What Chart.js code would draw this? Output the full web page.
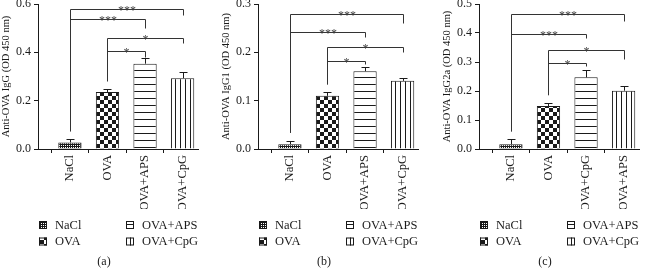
<!DOCTYPE html>
<html>
<head>
<meta charset="utf-8">
<script src="https://cdn.jsdelivr.net/npm/chart.js@4.4.0/dist/chart.umd.min.js"></script>
<style>
  body { margin: 0; background: #fff; width: 654px; height: 269px; overflow: hidden; position: relative; }
  .panel { position: absolute; top: 0; width: 213px; height: 269px; }
</style>
</head>
<body>
<div class="panel" style="left:0px"><canvas id="chartA" width="213" height="269"></canvas></div>
<div class="panel" style="left:220px"><canvas id="chartB" width="213" height="269"></canvas></div>
<div class="panel" style="left:441px"><canvas id="chartC" width="213" height="269"></canvas></div>
<script>
// legend entries (same in every panel)
const legendNames = ["NaCl", "OVA", "OVA+APS", "OVA+CpG"];

// (a) IgG
const labelsA = ["NaCl", "OVA", "OVA+APS", "OVA+CpG"];
const meanA = [0.027, 0.236, 0.353, 0.293];
const errA = [0.013, 0.011, 0.025, 0.024];
const ticksA = [0.0, 0.2, 0.4, 0.6];
const compA = [[0, 3, "***"], [0, 2, "***"], [1, 3, "*"], [1, 2, "*"]];

// (b) IgG1
const labelsB = ["NaCl", "OVA", "OVA+APS", "OVA+CpG"];
const meanB = [0.010, 0.110, 0.161, 0.141];
const errB = [0.007, 0.007, 0.009, 0.005];
const ticksB = [0.0, 0.1, 0.2, 0.3];
const compB = [[0, 3, "***"], [0, 2, "***"], [1, 3, "*"], [1, 2, "*"]];

// (c) IgG2a
const labelsC = ["NaCl", "OVA", "OVA+CpG", "OVA+APS"];
const meanC = [0.016, 0.148, 0.247, 0.201];
const errC = [0.017, 0.010, 0.025, 0.016];
const ticksC = [0.0, 0.1, 0.2, 0.3, 0.4, 0.5];
const compC = [[0, 3, "***"], [0, 2, "***"], [1, 3, "*"], [1, 2, "*"]];

const SERIF = "'Liberation Serif', 'DejaVu Serif', serif";
const INK = "#1a1a1a";

function makeTile(w, h, draw) {
  const c = document.createElement("canvas");
  c.width = w; c.height = h;
  const g = c.getContext("2d");
  g.fillStyle = "#fff";
  g.fillRect(0, 0, w, h);
  g.fillStyle = INK;
  draw(g);
  return g.createPattern(c, "repeat");
}

// fill patterns, by bar position
const patterns = [
  makeTile(2, 2, (g) => { g.fillRect(0, 0, 2, 1); g.fillRect(0, 0, 1, 2); }),
  makeTile(8, 8, (g) => { g.fillRect(0, 0, 4, 4); g.fillRect(4, 4, 4, 4); }),
  makeTile(1, 7, (g) => { g.fillRect(0, 0, 1, 1); }),
  makeTile(5, 1, (g) => { g.fillRect(0, 0, 1, 1); }),
];

const extras = {
  id: "extras",
  afterDatasetsDraw(chart, args, opts) {
    const ctx = chart.ctx;
    const ys = chart.scales.y;
    const bars = chart.getDatasetMeta(0).data;
    const line = (x1, y1, x2, y2) => {
      ctx.beginPath(); ctx.moveTo(x1, y1); ctx.lineTo(x2, y2); ctx.stroke();
    };
    ctx.save();
    ctx.strokeStyle = INK;
    ctx.lineWidth = 1;
    // error bars (upper only)
    opts.means.forEach((m, i) => {
      const bx = Math.round(bars[i].x) + 0.5;
      const top = Math.round(ys.getPixelForValue(m + opts.errs[i])) + 0.5;
      line(bx, ys.getPixelForValue(m), bx, top);
      line(bx - 4, top, bx + 4, top);
    });
    // significance brackets
    ctx.strokeStyle = "#333";
    ctx.fillStyle = "#444";
    ctx.font = "12px " + SERIF;
    ctx.textAlign = "center";
    ctx.textBaseline = "alphabetic";
    opts.comps.forEach((c, k) => {
      const x1 = Math.round(bars[c[0]].x) + 0.5;
      const x2 = Math.round(bars[c[1]].x) + 0.5;
      const ly = opts.levels[k] + 0.5;
      const legEnd = ys.getPixelForValue(opts.means[c[0]] + opts.errs[c[0]]) - 8;
      line(x1, legEnd, x1, ly);
      line(x1, ly, x2, ly);
      line(x2, ly, x2, ly + opts.drops[k]);
      ctx.fillText(c[2], (x1 + x2) / 2, ly + 4);
    });
    ctx.restore();
  },
  afterDraw(chart, args, opts) {
    const ctx = chart.ctx;
    const left = chart.chartArea.left;
    ctx.save();
    ctx.font = "12.5px " + SERIF;
    ctx.fillStyle = INK;
    ctx.textBaseline = "middle";
    legendNames.forEach((name, i) => {
      const sx = left + 1 + (i < 2 ? 0 : 87);
      const sy = i % 2 === 0 ? 225 : 241.5;
      ctx.fillStyle = patterns[i];
      ctx.fillRect(sx, sy - 4, 8, 8);
      ctx.strokeStyle = INK;
      ctx.lineWidth = 1;
      ctx.strokeRect(sx + 0.5, sy - 3.5, 7, 7);
      ctx.fillStyle = INK;
      ctx.textAlign = "left";
      ctx.fillText(name, sx + 16, sy + 0.5);
    });
    ctx.textAlign = "center";
    ctx.font = "12px " + SERIF;
    ctx.fillText(opts.caption, left + 66, 262);
    ctx.restore();
  },
};

function drawPanel(id, labels, means, errs, yTicks, yTitle, comps, levels, drops, caption) {
  const ctx = document.getElementById(id);
  return new Chart(ctx, {
    type: "bar",
    data: {
      datasets: [
        {
          data: means.map((v, i) => ({ x: i, y: v })),
          backgroundColor: patterns,
          borderColor: INK,
          borderWidth: 1,
          categoryPercentage: 1,
          barPercentage: 0.62,
        },
      ],
    },
    plugins: [extras],
    options: {
      responsive: false,
      animation: false,
      devicePixelRatio: 1,
      layout: { padding: { left: 0, right: 15, top: 4, bottom: 60 } },
      scales: {
        x: {
          type: "linear",
          min: -0.85,
          max: 3.41,
          offset: false,
          afterBuildTicks: (s) => { s.ticks = labels.map((l, i) => ({ value: i })); },
          afterFit: (s) => { s.height = 60; },
          border: { display: true, color: INK, width: 1 },
          grid: { display: true, drawOnChartArea: false, drawTicks: true, tickLength: 4, color: INK },
          ticks: {
            autoSkip: false,
            minRotation: 90,
            maxRotation: 90,
            padding: 2,
            color: INK,
            font: { family: SERIF, size: 12.5 },
            callback: (v) => labels[v],
          },
        },
        y: {
          min: 0,
          max: yTicks[yTicks.length - 1],
          afterBuildTicks: (s) => { s.ticks = yTicks.map((v) => ({ value: v })); },
          afterFit: (s) => { s.width = 38; s.paddingTop = 4; },
          border: { display: true, color: INK, width: 1 },
          grid: { display: true, drawOnChartArea: false, drawTicks: true, tickLength: 4, color: INK },
          ticks: {
            padding: 3,
            color: INK,
            font: { family: SERIF, size: 12 },
            callback: (v) => Number(v).toFixed(1),
          },
          title: {
            display: true,
            text: yTitle,
            color: INK,
            padding: 0,
            font: { family: SERIF, size: 10.5 },
          },
        },
      },
      plugins: {
        legend: { display: false },
        tooltip: { enabled: false },
        extras: { means, errs, comps, levels, drops, caption },
      },
    },
  });
}

drawPanel("chartA", labelsA, meanA, errA, ticksA, "Anti-OVA IgG (OD 450 nm)", compA,
  [9, 19, 38, 51], [6, 9, 5, 6], "(a)");
drawPanel("chartB", labelsB, meanB, errB, ticksB, "Anti-OVA IgG1 (OD 450 nm)", compB,
  [14, 32, 47, 61], [9, 5, 5, 3], "(b)");
drawPanel("chartC", labelsC, meanC, errC, ticksC, "Anti-OVA IgG2a (OD 450 nm)", compC,
  [14, 34, 50, 63], [7, 4, 9, 3], "(c)");
</script>
</body>
</html>
